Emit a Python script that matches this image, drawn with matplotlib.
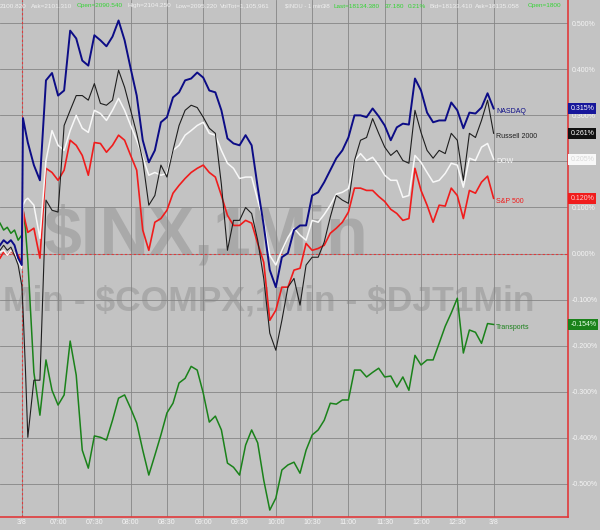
import matplotlib
matplotlib.use('Agg')
import matplotlib.pyplot as plt
import matplotlib.transforms as mtransforms
import numpy as np

plt.rcParams['text.parse_math'] = False

# minutes from the 06:30 open (negative = end of previous session)
PRE_TIMES = [-18, -15, -12, -9, -6, -3, 0, 1, 3]
TIMES = PRE_TIMES + list(range(5, 391, 5))

# % change
NASDAQ = [0.018, 0.029, 0.022, 0.029, 0.018, -0.010, -0.025, 0.294, 0.267,
          0.241, 0.192, 0.159, 0.376, 0.392, 0.343, 0.354, 0.484, 0.467, 0.419,
          0.408, 0.474, 0.463, 0.450, 0.471, 0.506, 0.463, 0.402, 0.343, 0.246,
          0.198, 0.224, 0.285, 0.296, 0.339, 0.350, 0.376, 0.380, 0.393, 0.382,
          0.354, 0.350, 0.311, 0.250, 0.239, 0.235, 0.257, 0.235, 0.144, 0.061,
          -0.036, -0.073, -0.008, 0.001, 0.051, 0.061, 0.061, 0.126, 0.133, 0.155,
          0.181, 0.207, 0.224, 0.252, 0.300, 0.300, 0.296, 0.315, 0.298, 0.278,
          0.246, 0.274, 0.282, 0.280, 0.380, 0.354, 0.306, 0.285, 0.289, 0.289,
          0.328, 0.311, 0.272, 0.306, 0.304, 0.317, 0.348, 0.315]
RUSSELL = [0.007, 0.018, 0.007, 0.014, -0.004, -0.025, -0.069, -0.120, -0.250,
           -0.399, -0.275, -0.275, 0.116, 0.094, 0.090, 0.278, 0.311, 0.343, 0.343,
           0.333, 0.369, 0.326, 0.322, 0.333, 0.398, 0.361, 0.311, 0.261, 0.202,
           0.105, 0.126, 0.192, 0.166, 0.224, 0.278, 0.311, 0.322, 0.317, 0.296,
           0.272, 0.261, 0.150, 0.007, 0.072, 0.072, 0.100, 0.087, 0.029, -0.054,
           -0.173, -0.210, -0.145, -0.073, -0.054, -0.112, -0.025, -0.008, -0.008, 0.025,
           0.079, 0.126, 0.116, 0.109, 0.202, 0.246, 0.252, 0.293, 0.261, 0.231,
           0.213, 0.224, 0.202, 0.196, 0.311, 0.263, 0.224, 0.207, 0.224, 0.217,
           0.261, 0.246, 0.159, 0.261, 0.252, 0.289, 0.333, 0.261]
DOW = [0.003, 0.007, -0.004, 0.007, 0.001, -0.015, -0.032, 0.105, 0.116,
       0.120, 0.105, 0.033, 0.202, 0.267, 0.235, 0.224, 0.267, 0.300, 0.272,
       0.263, 0.311, 0.304, 0.289, 0.311, 0.337, 0.311, 0.278, 0.246, 0.209,
       0.170, 0.176, 0.170, 0.174, 0.224, 0.235, 0.257, 0.267, 0.278, 0.285,
       0.261, 0.257, 0.224, 0.196, 0.185, 0.163, 0.166, 0.166, 0.116, 0.068,
       -0.004, -0.025, 0.007, 0.035, 0.055, 0.040, 0.029, 0.072, 0.068, 0.085,
       0.105, 0.129, 0.133, 0.141, 0.202, 0.217, 0.202, 0.209, 0.192, 0.170,
       0.159, 0.159, 0.122, 0.126, 0.213, 0.198, 0.176, 0.155, 0.159, 0.174,
       0.196, 0.192, 0.144, 0.207, 0.202, 0.231, 0.239, 0.205]
SP500 = [-0.010, 0.003, -0.004, 0.007, -0.004, -0.004, -0.019, 0.094, 0.068,
         0.046, 0.055, -0.010, 0.185, 0.176, 0.159, 0.181, 0.246, 0.235, 0.213,
         0.170, 0.241, 0.239, 0.220, 0.235, 0.257, 0.246, 0.213, 0.181, 0.051,
         0.007, 0.068, 0.076, 0.094, 0.131, 0.148, 0.163, 0.176, 0.185, 0.192,
         0.176, 0.166, 0.126, 0.083, 0.061, 0.061, 0.072, 0.066, 0.022, -0.019,
         -0.145, -0.123, -0.073, -0.073, -0.036, -0.032, 0.022, 0.007, 0.011, 0.018,
         0.044, 0.055, 0.068, 0.090, 0.142, 0.142, 0.137, 0.137, 0.124, 0.113,
         0.096, 0.087, 0.072, 0.076, 0.185, 0.137, 0.105, 0.068, 0.105, 0.103,
         0.142, 0.126, 0.076, 0.137, 0.131, 0.155, 0.168, 0.120]
TRANSPORTS = [0.066, 0.051, 0.057, 0.044, 0.051, 0.029, 0.040, 0.098, 0.055,
              -0.015, -0.258, -0.351, -0.231, -0.297, -0.329, -0.307, -0.190, -0.264, -0.427,
              -0.466, -0.396, -0.399, -0.405, -0.362, -0.314, -0.307, -0.336, -0.368, -0.427,
              -0.481, -0.438, -0.394, -0.346, -0.325, -0.281, -0.271, -0.245, -0.253, -0.303,
              -0.366, -0.353, -0.383, -0.455, -0.464, -0.481, -0.416, -0.383, -0.411, -0.492,
              -0.557, -0.531, -0.470, -0.459, -0.453, -0.477, -0.427, -0.394, -0.383, -0.362,
              -0.325, -0.327, -0.318, -0.318, -0.253, -0.253, -0.268, -0.258, -0.249, -0.268,
              -0.266, -0.290, -0.268, -0.297, -0.221, -0.242, -0.231, -0.231, -0.195, -0.158,
              -0.129, -0.097, -0.216, -0.166, -0.171, -0.195, -0.152, -0.154]

TIME_TICKS = [0, 30, 60, 90, 120, 150, 180, 210, 240, 270, 300, 330, 360, 390]
TIME_LABELS = ['3/8', '07:00', '07:30', '08:00', '08:30', '09:00', '09:30',
               '10:00', '10:30', '11:00', '11:30', '12:00', '12:30', '3/8']
PCT_TICKS = [-0.5, -0.4, -0.3, -0.2, -0.1, 0.0, 0.1, 0.2, 0.3, 0.4, 0.5]

HEADER = [
    (0, '2100.820', 'w'), (31, 'Ask=2101.310', 'w'), (77, 'Open=2090.540', 'g'),
    (128, 'High=2104.250', 'w'), (176, 'Low=2095.220', 'w'), (220, 'VolTot=1,105,961', 'w'),
    (285, '$INDU - 1 min', 'w'), (322, '3/8', 'w'),
    (334, 'Last=18134.380', 'g'), (385, '37.180', 'g'), (408, '0.21%', 'g'),
    (430, 'Bid=18133.410', 'w'), (475, 'Ask=18135.058', 'w'), (528, 'Open=1800', 'g'),
]

BG = '#c3c3c3'
RED = '#e0393b'

# name, values, line colour, width, tag face, tag text colour
SERIES = [
    ('Transports', TRANSPORTS, '#1a821a', 1.1, '#1a821a', '#e8ffe8'),
    ('S&P 500', SP500, '#f01c1c', 1.2, '#f01c1c', '#ffd0d0'),
    ('DOW', DOW, '#f8f8f8', 1.1, '#f8f8f8', '#d8d8d8'),
    ('Russell 2000', RUSSELL, '#1e1e1e', 0.8, '#111111', '#ffffff'),
    ('NASDAQ', NASDAQ, '#0c0c86', 1.4, '#16169a', '#ffffff'),
]


def plot():
    fig = plt.figure(figsize=(6.0, 5.3), dpi=100, facecolor=BG)
    ax = fig.add_axes([0.0, 13.3 / 530, 568 / 600, 516.7 / 530])
    ax.set_facecolor(BG)
    ax.set_xlim(-18, 451.5)
    ax.set_ylim(-0.5714, 0.5505)

    ax.set_xticks(TIME_TICKS)
    ax.set_xticklabels(TIME_LABELS)
    ax.set_yticks(PCT_TICKS)
    ax.set_yticklabels([f'{v:.3f}%' for v in PCT_TICKS])
    ax.yaxis.tick_right()
    ax.tick_params(axis='both', length=0, labelsize=5, labelcolor='#f4f4f4')
    ax.tick_params(axis='x', pad=2)
    ax.tick_params(axis='y', pad=3)
    for lbl in ax.get_xticklabels() + ax.get_yticklabels():
        lbl.set_family('Liberation Sans')

    ax.grid(True, color='#858585', lw=0.6)
    ax.set_axisbelow(True)
    for s in ('top', 'left'):
        ax.spines[s].set_visible(False)
    for s in ('right', 'bottom'):
        ax.spines[s].set_color(RED)
        ax.spines[s].set_linewidth(1.2)

    ax.axhline(0, color=RED, lw=0.8, ls=(0, (2, 2)), zorder=1)
    ax.axvline(0, color=RED, lw=0.8, ls=(0, (2, 2)), zorder=1)

    # watermark
    ax.text(0.0757, 0.5065, '$INX,1Min', transform=ax.transAxes, fontsize=49,
            fontweight='bold', family='Liberation Sans', color='#a9a9a9',
            va='baseline', ha='left', zorder=0.5)
    ax.text(0.005, 0.400, 'Min - $COMPX,1Min - $DJT1Min', transform=ax.transAxes,
            fontsize=25.5, fontweight='bold', family='Liberation Sans', color='#a9a9a9',
            va='baseline', ha='left', zorder=0.5)

    trans = mtransforms.blended_transform_factory(ax.transAxes, ax.transData)
    for name, vals, col, lw, tag_bg, tag_fg in SERIES:
        ax.plot(TIMES, vals, color=col, lw=lw, zorder=3)
        last = vals[-1]
        ax.annotate(name, (TIMES[-1], last), xytext=(2, -2), textcoords='offset points',
                    fontsize=5, color=col, va='center', ha='left',
                    family='Liberation Sans', zorder=4)
        ax.text(1.004, last, f'{last:.3f}%', transform=trans, fontsize=5,
                color=tag_fg, va='center', ha='left', family='Liberation Sans',
                clip_on=False, zorder=5,
                bbox=dict(boxstyle='square,pad=0.3', fc=tag_bg, ec='none'))

    for x, txt, c in HEADER:
        fig.text(x / 600, 1 - 6 / 530, txt, fontsize=4.2 if x == 285 else 4.6,
                 va='center', ha='left', family='Liberation Sans',
                 color='#34d434' if c == 'g' else '#f0f0f0')

    fig.savefig('out.png', dpi=100, facecolor=BG)


def main():
    plot()


if __name__ == '__main__':
    main()
